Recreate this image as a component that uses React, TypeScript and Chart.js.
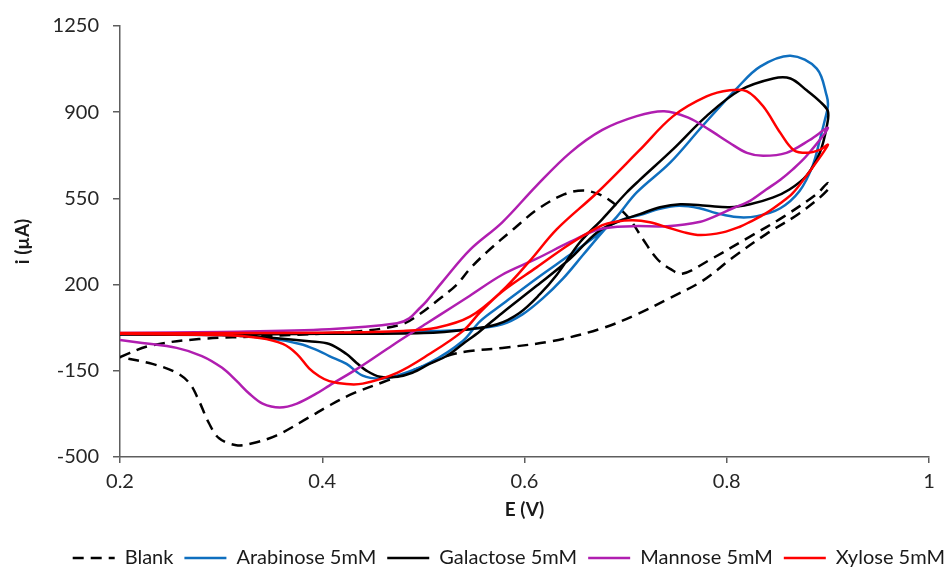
import React, { useEffect, useRef } from 'react';
import { Chart, registerables } from 'chart.js';
Chart.register(...registerables);

// ---- data (E in V, i in µA), each curve is one closed CV loop ----
const seriesNames = ['Blank', 'Arabinose 5mM', 'Galactose 5mM', 'Mannose 5mM', 'Xylose 5mM'];
const seriesColors = ['#000000', '#0F6FBF', '#000000', '#B01EB0', '#FF0000'];

const blankE = [0.2, 0.229, 0.278, 0.345, 0.437, 0.479, 0.496, 0.513, 0.533, 0.546, 0.563, 0.589, 0.613, 0.639, 0.658, 0.674, 0.687, 0.704, 0.717, 0.731, 0.744, 0.756, 0.783, 0.823, 0.856, 0.889, 0.9,
  0.9, 0.872, 0.839, 0.806, 0.776, 0.741, 0.711, 0.677, 0.628, 0.578, 0.546, 0.523, 0.496, 0.464, 0.43, 0.407, 0.387, 0.355, 0.331, 0.315, 0.298, 0.288, 0.278, 0.269, 0.256, 0.232, 0.2];
const blankI = [-94, -49, -21, -9, 11, 39, 79, 132, 200, 264, 333, 425, 506, 566, 582, 566, 534, 466, 385, 305, 264, 244, 300, 395, 475, 568, 612,
  585, 490, 405, 310, 215, 140, 79, 23, -29, -57, -70, -90, -138, -190, -243, -291, -339, -412, -444, -452, -424, -363, -271, -202, -158, -122, -94];

const arabinoseE = [0.2, 0.3, 0.4, 0.5, 0.546, 0.578, 0.598, 0.618, 0.638, 0.658, 0.677, 0.691, 0.711, 0.744, 0.776, 0.81, 0.833, 0.863, 0.889, 0.899, 0.9,
  0.897, 0.892, 0.885, 0.872, 0.853, 0.83, 0.81, 0.79, 0.773, 0.753, 0.734, 0.714, 0.7, 0.684, 0.672, 0.645, 0.612, 0.578, 0.556, 0.539, 0.506, 0.474, 0.457, 0.44, 0.424, 0.407, 0.397, 0.378, 0.345, 0.3, 0.2];
const arabinoseI = [-2, 0, 3, 10, 19, 39, 79, 144, 224, 321, 413, 474, 574, 695, 844, 997, 1085, 1129, 1077, 964, 924,
  868, 787, 683, 580, 510, 478, 474, 490, 510, 520, 508, 482, 468, 441, 401, 321, 225, 120, 51, -29, -118, -170, -182, -170, -122, -90, -70, -41, -17, -5, -2];

const galactoseE = [0.2, 0.3, 0.4, 0.5, 0.546, 0.573, 0.595, 0.615, 0.632, 0.655, 0.677, 0.701, 0.714, 0.747, 0.78, 0.813, 0.846, 0.863, 0.879, 0.892, 0.9,
  0.899, 0.892, 0.879, 0.862, 0.846, 0.823, 0.803, 0.78, 0.754, 0.734, 0.714, 0.691, 0.672, 0.645, 0.612, 0.578, 0.556, 0.539, 0.523, 0.506, 0.489, 0.474, 0.457, 0.444, 0.434, 0.424, 0.407, 0.387, 0.355, 0.321, 0.3, 0.2];
const galactoseI = [-3, -2, 0, 3, 19, 39, 85, 160, 240, 373, 466, 574, 625, 750, 884, 989, 1037, 1037, 989, 944, 904,
  844, 735, 643, 586, 554, 526, 514, 520, 526, 514, 486, 453, 413, 305, 195, 85, 11, -41, -90, -122, -158, -174, -174, -150, -118, -82, -41, -30, -18, -9, -5, -3];

const mannoseE = [0.2, 0.3, 0.407, 0.474, 0.486, 0.496, 0.503, 0.519, 0.546, 0.578, 0.612, 0.645, 0.677, 0.711, 0.738, 0.762, 0.783, 0.803, 0.82, 0.836, 0.859, 0.882, 0.9,
  0.879, 0.865, 0.853, 0.839, 0.823, 0.806, 0.79, 0.774, 0.741, 0.707, 0.674, 0.645, 0.612, 0.578, 0.546, 0.529, 0.503, 0.47, 0.436, 0.407, 0.394, 0.375, 0.358, 0.341, 0.328, 0.315, 0.301, 0.281, 0.256, 0.222, 0.2];
const mannoseI = [3, 8, 19, 43, 63, 103, 132, 212, 341, 453, 602, 735, 828, 884, 904, 878, 828, 775, 735, 723, 735, 787, 836,
  723, 667, 626, 586, 540, 510, 480, 455, 437, 437, 425, 373, 305, 240, 155, 110, 42, -45, -138, -210, -243, -283, -299, -283, -243, -190, -138, -90, -57, -37, -25];

const xyloseE = [0.2, 0.3, 0.4, 0.48, 0.513, 0.546, 0.578, 0.605, 0.632, 0.672, 0.714, 0.747, 0.78, 0.803, 0.82, 0.836, 0.853, 0.866, 0.879, 0.892, 0.9,
  0.879, 0.865, 0.853, 0.839, 0.823, 0.813, 0.796, 0.774, 0.757, 0.741, 0.724, 0.707, 0.69, 0.677, 0.645, 0.612, 0.578, 0.556, 0.539, 0.506, 0.474, 0.44, 0.424, 0.407, 0.397, 0.387, 0.375, 0.361, 0.338, 0.3, 0.2];
const xyloseI = [3, 3, 5, 12, 25, 70, 175, 295, 425, 574, 747, 884, 964, 989, 985, 924, 816, 747, 735, 747, 767,
  643, 570, 530, 490, 455, 435, 412, 401, 413, 433, 453, 461, 455, 441, 365, 270, 172, 87, 11, -82, -158, -202, -204, -192, -172, -140, -82, -41, -17, -5, 0];

const xTicks = [0.2, 0.4, 0.6, 0.8, 1];
const yTicks = [-500, -150, 200, 550, 900, 1250];

const seriesE = [blankE, arabinoseE, galactoseE, mannoseE, xyloseE];
const seriesI = [blankI, arabinoseI, galactoseI, mannoseI, xyloseI];
const seriesDash = [[11, 7], [], [], [], []];

const FONT = 'Lato, "Open Sans", sans-serif';
const LEGEND_PAD = 11;

const legendShift = {
  id: 'legendShift',
  afterLayout(chart: any) {
    const l = chart.legend;
    if (l) {
      l.right = 945 + LEGEND_PAD;
    }
  },
};

export default function App() {
  const ref = useRef<HTMLCanvasElement>(null);
  useEffect(() => {
    document.body.style.margin = '0';
    const datasets = seriesNames.map((name, k) => ({
      label: name,
      data: seriesE[k].map((e, j) => ({ x: e, y: seriesI[k][j] })),
      borderColor: seriesColors[k],
      backgroundColor: seriesColors[k],
      borderWidth: 2.5,
      borderDash: seriesDash[k],
      showLine: true,
      pointRadius: 0,
      tension: 0.35,
      fill: false,
      order: seriesNames.length - k,
    }));
    const axisColor = '#5e5e5e';
    const defaultLabels = (Chart.defaults.plugins.legend.labels as any).generateLabels;
    const chart = new Chart(ref.current!, {
      type: 'scatter',
      data: { datasets },
      plugins: [legendShift],
      options: {
        animation: false,
        responsive: true,
        maintainAspectRatio: false,
        layout: { padding: { top: 22, right: 20, left: 0, bottom: -8 } },
        plugins: {
          tooltip: { enabled: false },
          legend: {
            position: 'bottom',
            align: 'end',
            reverse: true,
            labels: {
              usePointStyle: true,
              pointStyle: 'line',
              pointStyleWidth: 42,
              padding: LEGEND_PAD,
              color: '#1a1a1a',
              font: { family: FONT, size: 20 },
              generateLabels: (c: any) => {
                const items = defaultLabels(c);
                items.forEach((it: any) => {
                  const k = it.datasetIndex;
                  it.lineDash = seriesDash[k];
                  it.lineWidth = 2.5;
                  it.strokeStyle = seriesColors[k];
                });
                return items;
              },
            },
          },
        },
        scales: {
          x: {
            type: 'linear',
            min: 0.2,
            max: 1,
            afterBuildTicks: (s: any) => { s.ticks = xTicks.map((v) => ({ value: v })); },
            afterFit: (s: any) => { s.height = 80; },
            ticks: { color: '#262626', padding: 7, font: { family: FONT, size: 20 }, callback: (v: any) => String(v) },
            grid: { display: true, drawOnChartArea: false, drawTicks: true, tickLength: 6, color: axisColor, lineWidth: 1.5 },
            border: { display: true, color: axisColor, width: 1.5 },
            title: { display: true, text: 'E (V)', color: '#1a1a1a', font: { family: FONT, size: 19, weight: 'bold' }, padding: { top: 0, bottom: 16 } },
          },
          y: {
            type: 'linear',
            min: -500,
            max: 1250,
            afterBuildTicks: (s: any) => { s.ticks = yTicks.map((v) => ({ value: v })); },
            afterFit: (s: any) => { s.width = 120; },
            ticks: { color: '#262626', padding: 14, font: { family: FONT, size: 20 }, callback: (v: any) => String(v) },
            grid: { display: true, drawOnChartArea: false, drawTicks: true, tickLength: 7, color: axisColor, lineWidth: 1.5 },
            border: { display: true, color: axisColor, width: 1.5 },
            title: { display: true, text: 'i (µA)', color: '#1a1a1a', font: { family: FONT, size: 19, weight: 'bold' }, padding: { top: 11, bottom: 0 } },
          },
        },
      },
    });
    return () => chart.destroy();
  }, []);
  return (
    <div style={{ position: 'relative', width: 949, height: 570 }}>
      <canvas ref={ref} />
    </div>
  );
}
